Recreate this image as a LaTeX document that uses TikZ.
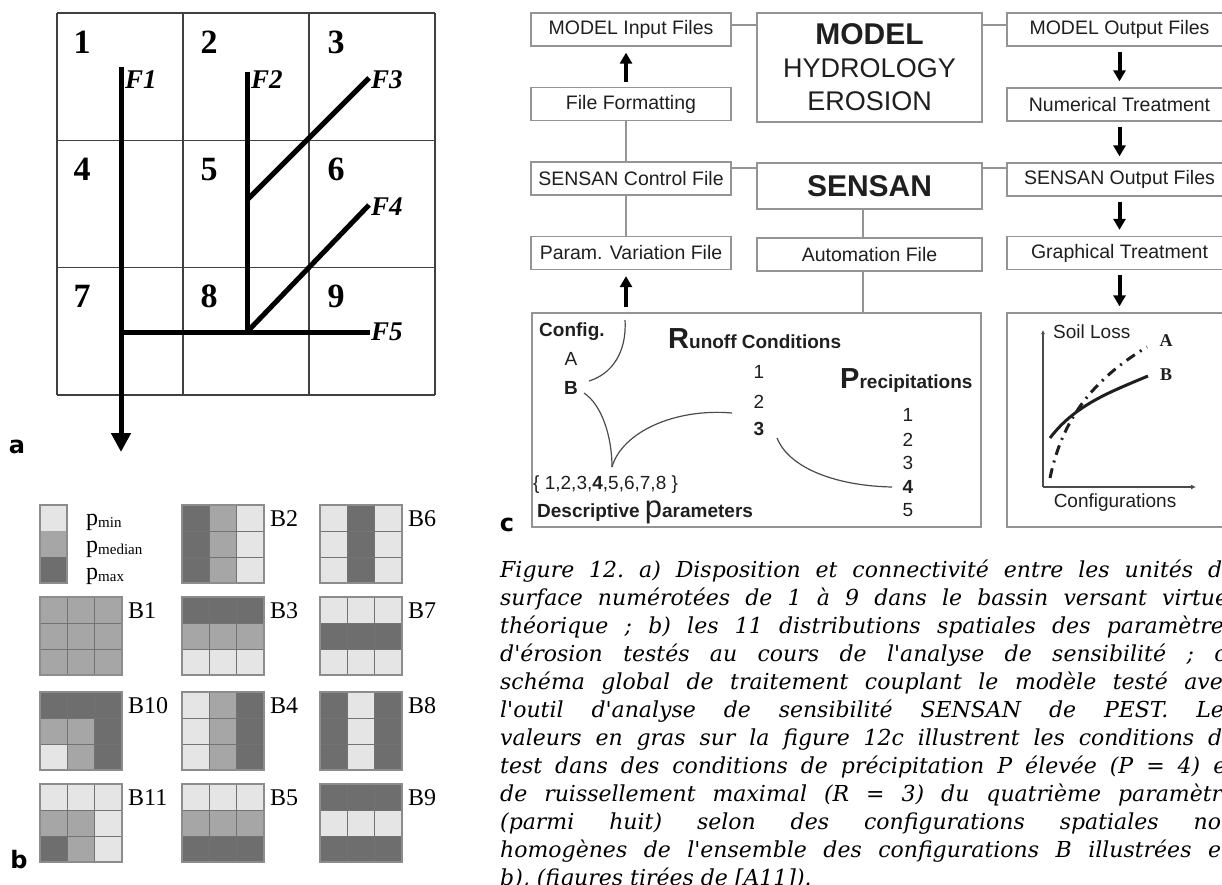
\documentclass[tikz,border=0pt]{standalone}
\usepackage{fontspec}
\setmainfont{Liberation Serif}
\newfontfamily\arialfont{Liberation Sans}
\newfontfamily\capfont{DejaVu Serif}
\newfontfamily\panelfont{DejaVu Sans}
\usetikzlibrary{arrows.meta}
\definecolor{pL}{gray}{0.90}
\definecolor{pM}{gray}{0.65}
\definecolor{pD}{gray}{0.43}
\definecolor{boxgray}{gray}{0.58}
\definecolor{ink}{gray}{0.12}
\newcommand{\psub}[1]{p\raisebox{-2pt}{\fontsize{15}{15}\selectfont #1}}
\newcommand{\bgrid}[4]{%
  \foreach \cc [count=\k from 0] in {#4} {
    \pgfmathsetmacro\gx{#1+27.33*mod(\k,3)}
    \pgfmathsetmacro\gy{#2+26*div(\k,3)}
    \fill[fill=\cc] (\gx,\gy) rectangle ++(27.33,26);
  }
  \foreach \i in {1,2} {
    \draw[cellsep] (#1+27.33*\i,#2) -- ++(0,78);
    \draw[cellsep] (#1,#2+26*\i) -- ++(82,0);
  }
  \draw[gridframe] (#1,#2) rectangle ++(82,78);
  \node[blabel] (#3) at (#1+88,#2+14) {#3};
}
\begin{document}
\begin{tikzpicture}[x=1pt, y=-1pt,
  cellline/.style={draw=black!75, line width=1.3pt},
  cellnum/.style={font=\bfseries\fontsize{34}{34}\selectfont, inner sep=0pt},
  flabel/.style={font=\bfseries\itshape\fontsize{27}{27}\selectfont, anchor=west, inner sep=1pt},
  flow/.style={line width=5pt},
  cellsep/.style={draw=black!55, line width=0.8pt},
  gridframe/.style={draw=black!45, line width=1.2pt},
  blabel/.style={font=\fontsize{24}{24}\selectfont, anchor=west, inner sep=0pt},
  filebox/.style={draw=boxgray, line width=1.3pt, minimum width=200pt, minimum height=33pt, inner sep=0pt, text=ink, font=\arialfont\fontsize{19.5}{22}\selectfont},
  widebox/.style={filebox, minimum width=225pt},
  thinline/.style={draw=boxgray, line width=1.1pt},
  bigarrow/.style={line width=4pt, -{Triangle[length=11pt,width=12pt]}, shorten <=5pt, shorten >=6pt},
  ctext/.style={inner sep=0pt, text=ink, font=\arialfont\fontsize{19}{22}\selectfont},
  cbold/.style={ctext, font=\arialfont\bfseries\fontsize{19}{22}\selectfont},
  link/.style={draw=ink!80, line width=1.2pt},
  panel/.style={font=\panelfont\bfseries\fontsize{24}{24}\selectfont, inner sep=0pt}]
\useasboundingbox (0,0) rectangle (1222,885);
\clip (0,0) rectangle (1222,885);
% a) grid of units and flow paths
\foreach \i in {0,...,3} {
  \draw[cellline] (57+126*\i,13) -- (57+126*\i,395);
  \draw[cellline] (57,13+127.33*\i) -- (435,13+127.33*\i);
}
\foreach \n in {1,...,9} {
  \pgfmathsetmacro\cx{82+127*mod(\n-1,3)}
  \pgfmathsetmacro\cy{42+127.3*div(\n-1,3)}
  \node[cellnum] (u\n) at (\cx,\cy) {\n};
}
\node[flabel] (F1) at (124,80) {F1};
\node[flabel] (F2) at (250,80) {F2};
\node[flabel] (F3) at (370,80) {F3};
\node[flabel] (F4) at (370,207) {F4};
\node[flabel] (F5) at (370,332) {F5};
\coordinate (s1) at (121,67);
\coordinate (out) at (121,452);
\coordinate (s2) at (247,72);
\coordinate (j3) at (247,200);
\coordinate (j4) at (247,332);
\coordinate (j1) at (121,332);
\draw[flow, -{Triangle[length=19pt,width=19pt]}] (s1) -- (out);
\draw[flow] (s2) -- (j4);
\draw[flow] (j3) -- ([xshift=-1pt,yshift=2pt]F3.west);
\draw[flow] (j4) -- ([xshift=-1pt,yshift=2pt]F4.west);
\draw[flow] (j1) -- (F5.west);
\node[panel] (pa) at (17,447) {a};
% b) spatial distributions
\fill[pL] (40,505) rectangle (67,531);
\fill[pM] (40,531) rectangle (67,557);
\fill[pD] (40,557) rectangle (67,583);
\draw[gridframe] (40,505) rectangle (67,583);
\node[blabel] (lmin) at (86,522) {\psub{min}};
\node[blabel] (lmed) at (86,549) {\psub{median}};
\node[blabel] (lmax) at (86,576) {\psub{max}};
\bgrid{182}{505}{B2}{pD,pM,pL,pD,pM,pL,pD,pM,pL}
\bgrid{320}{505}{B6}{pL,pD,pL,pL,pD,pL,pL,pD,pL}
\bgrid{40}{597}{B1}{pM,pM,pM,pM,pM,pM,pM,pM,pM}
\bgrid{182}{597}{B3}{pD,pD,pD,pM,pM,pM,pL,pL,pL}
\bgrid{320}{597}{B7}{pL,pL,pL,pD,pD,pD,pL,pL,pL}
\bgrid{40}{692}{B10}{pD,pD,pD,pM,pM,pD,pL,pM,pD}
\bgrid{182}{692}{B4}{pL,pM,pD,pL,pM,pD,pL,pM,pD}
\bgrid{320}{692}{B8}{pD,pL,pD,pD,pL,pD,pD,pL,pD}
\bgrid{40}{784}{B11}{pL,pL,pL,pM,pM,pL,pD,pM,pL}
\bgrid{182}{784}{B5}{pL,pL,pL,pM,pM,pM,pD,pD,pD}
\bgrid{320}{784}{B9}{pD,pD,pD,pL,pL,pL,pD,pD,pD}
\node[panel] (pb) at (19,860) {b};
% c) processing chain
\node[filebox] (min) at (631,29.5) {MODEL Input Files};
\node[filebox] (ff) at (631,104) {File Formatting};
\node[filebox] (scf) at (631,178.5) {SENSAN Control File};
\node[filebox] (pvf) at (631,253) {Param. Variation File};
\node[widebox, minimum height=109pt, align=center, font=\arialfont\fontsize{27}{33}\selectfont] (model) at (869.5,67.5) {{\bfseries\fontsize{30}{33}\selectfont MODEL}\\HYDROLOGY\\EROSION};
\node[widebox, minimum height=46pt, font=\arialfont\bfseries\fontsize{30}{33}\selectfont] (sensan) at (869.5,186) {SENSAN};
\node[widebox] (auto) at (869.5,254.5) {Automation File};
\node[widebox] (mout) at (1119.5,29.5) {MODEL Output Files};
\node[widebox] (num) at (1119.5,104.5) {Numerical Treatment};
\node[widebox] (sout) at (1119.5,179.5) {SENSAN Output Files};
\node[widebox] (gt) at (1119.5,253) {Graphical Treatment};
\node[filebox, minimum width=449pt, minimum height=214pt] (cond) at (756.5,420) {};
\node[widebox, minimum height=214pt] (plot) at (1119.5,420) {};
\draw[thinline] ([yshift=4.5pt]min.east) -- ([yshift=4.5pt]min.east -| model.west);
\draw[thinline] ([yshift=4.5pt]mout.west -| model.east) -- ([yshift=4.5pt]mout.west);
\draw[thinline] ([yshift=10.5pt]scf.east) -- ([yshift=10.5pt]scf.east -| sensan.west);
\draw[thinline] ([yshift=11.5pt]sout.west -| sensan.east) -- ([yshift=11.5pt]sout.west);
\draw[thinline] ([xshift=-5pt]ff.south) -- ([xshift=-5pt]scf.north);
\draw[thinline] ([xshift=-5pt]scf.south) -- ([xshift=-5pt]pvf.north);
\draw[thinline] ([xshift=-6.5pt]sensan.south) -- ([xshift=-6.5pt]auto.north);
\draw[thinline] ([xshift=-6.5pt]auto.south) -- ([xshift=-6.5pt]auto.south |- cond.north);
\draw[bigarrow] ([xshift=-5pt]ff.north) -- ([xshift=-5pt]min.south);
\draw[bigarrow] ([xshift=-5pt]pvf.south |- cond.north) -- ([xshift=-5pt]pvf.south);
\draw[bigarrow] (mout) -- (num);
\draw[bigarrow] (num) -- (sout);
\draw[bigarrow] (sout) -- (gt);
\draw[bigarrow] (gt) -- (plot);
% conditions
\node[cbold, anchor=west] (cfg) at (539,332) {Config.};
\node[ctext] (cA) at (571,359) {A};
\node[cbold] (cB) at (571,388) {B};
\node[ctext, anchor=west] (dset) at (533,485) {\{ 1,2,3,\textbf{4},5,6,7,8 \}};
\node[cbold, anchor=base west] (dpar) at (537,517) {Descriptive {\fontsize{31}{31}\selectfont\mdseries p}arameters};
\node[cbold, anchor=base west] (roff) at (668,348) {{\fontsize{29}{29}\selectfont R}unoff Conditions};
\node[cbold, anchor=base west] (prec) at (840,388) {{\fontsize{29}{29}\selectfont P}recipitations};
\node[ctext] (r1) at (759,372) {1};
\node[ctext] (r2) at (759,402) {2};
\node[cbold] (r3) at (759,429) {3};
\foreach \v/\y in {1/415,2/440,3/463,5/510} {
  \node[ctext] (p\v) at (908,\y) {\v};
}
\node[cbold] (p4) at (908,487) {4};
\coordinate (k0) at (625,320);
\coordinate (kB) at (589,381);
\coordinate (kB2) at (584,393);
\coordinate (cusp) at (612,467);
\coordinate (kR) at (732,413);
\coordinate (kR3) at (777,438);
\coordinate (kP4) at (892,487);
\draw[link] (k0) .. controls (627,352) and (612,374) .. (kB);
\draw[link] (kB2) .. controls (602,405) and (612,437) .. (cusp);
\draw[link] (cusp) .. controls (622,432) and (675,408) .. (kR);
\draw[link] (kR3) .. controls (790,470) and (840,486) .. (kP4);
\node[panel] (pc) at (507,525) {c};
% plot
\coordinate (org) at (1043,487);
\coordinate (ytop) at (1043,330);
\coordinate (xend) at (1196,487);
\draw[draw=ink!80, line width=1.2pt, -{Latex[length=4pt,width=4pt]}] (org) -- (ytop);
\draw[draw=ink!80, line width=1.2pt, -{Latex[length=5pt,width=5pt]}] (org) -- (xend);
\node[ctext, anchor=west] (sl) at (1053,332) {Soil Loss};
\node[ctext] (cf) at (1115,503) {Configurations};
\node[inner sep=0pt, font=\bfseries\fontsize{18}{18}\selectfont, text=ink] (lA) at (1166,341) {A};
\node[inner sep=0pt, font=\bfseries\fontsize{18}{18}\selectfont, text=ink] (lB) at (1166,375) {B};
\draw[ink, line width=3pt] (1050,438) .. controls (1075,405) and (1110,392) .. (1148,376);
\draw[ink, line width=3pt, dash pattern=on 10pt off 6pt on 2pt off 6pt] (1050,478) .. controls (1062,420) and (1092,380) .. (1147,347);
% caption
\node[anchor=north west, inner sep=0pt, text width=735pt, align=justify, font=\capfont\itshape\fontsize{22}{28}\selectfont\frenchspacing] (cap) at (500,560) {Figure 12. a) Disposition et connectivité entre les unités de\linebreak
surface numérotées de 1 à 9 dans le bassin versant virtuel\linebreak
théorique ; b) les 11 distributions spatiales des paramètres\linebreak
d'érosion testés au cours de l'analyse de sensibilité ; c)\linebreak
schéma global de traitement couplant le modèle testé avec\linebreak
l'outil d'analyse de sensibilité SENSAN de PEST. Les\linebreak
valeurs en gras sur la figure 12c illustrent les conditions de\linebreak
test dans des conditions de précipitation P élevée (P = 4) et\linebreak
de ruissellement maximal (R = 3) du quatrième paramètre\linebreak
(parmi huit) selon des configurations spatiales non\linebreak
homogènes de l'ensemble des configurations B illustrées en\linebreak
b), (figures tirées de [A11]).};
\end{tikzpicture}
\end{document}
